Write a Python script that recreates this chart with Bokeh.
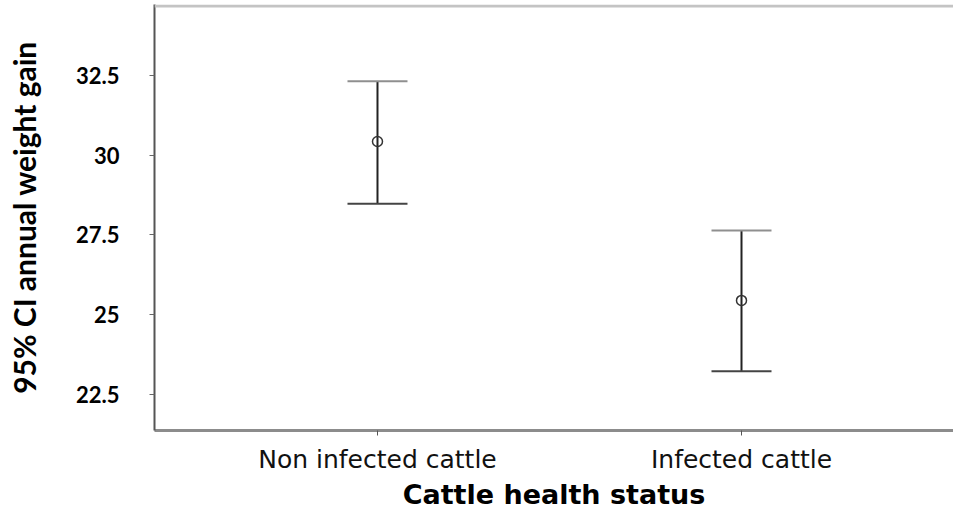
from bokeh.plotting import figure
from bokeh.models import ColumnDataSource, Whisker, TeeHead, FixedTicker, Span, Range1d
from bokeh.embed import file_html
from bokeh.resources import INLINE

# ---- data ----
categories = ["Non infected cattle", "Infected cattle"]
means = [30.43, 25.45]
upper = [32.32, 27.64]
lower = [28.48, 23.23]
y_ticks = [22.5, 25, 27.5, 30, 32.5]
y_tick_labels = ["22.5", "25", "27.5", "30", "32.5"]
x_title = "Cattle health status"
y_title = "95% CI annual weight gain"

xpos = list(range(len(categories)))
src = ColumnDataSource(dict(x=xpos, mean=means, upper=upper, lower=lower))

Y0, Y1 = 21.371, 34.726
p = figure(width=953, height=512, output_backend="svg", toolbar_location=None,
           x_range=Range1d(-0.6126, 1.5824), y_range=Range1d(Y0, Y1),
           min_border_left=154, min_border_right=0, min_border_top=4,
           min_border_bottom=82)
p.grid.visible = False
p.outline_line_color = None
p.background_fill_color = "white"
p.border_fill_color = "white"

# top frame line
p.add_layout(Span(location=Y1 - 0.05, dimension="width", line_color="#c4c4c4", line_width=3))

# error bars
w = Whisker(source=src, base="x", upper="upper", lower="lower", dimension="height",
            line_color="#222222", line_width=2,
            upper_head=TeeHead(size=60, line_color="#8f8f8f", line_width=2),
            lower_head=TeeHead(size=60, line_color="#444444", line_width=2))
p.add_layout(w)
p.scatter("x", "mean", source=src, marker="circle", size=10, fill_color=None,
          line_color="#333333", line_width=1.5)

# y axis
yax = p.yaxis[0]
yax.ticker = FixedTicker(ticks=y_ticks)
yax.major_label_overrides = {t: s for t, s in zip(y_ticks, y_tick_labels)}
yax.major_label_text_font = "Lato"
yax.major_label_text_font_style = "bold"
yax.major_label_text_font_size = "22px"
yax.major_label_text_color = "#000000"
yax.major_label_standoff = 30
yax.axis_label = y_title
yax.axis_label_text_font = "Lato"
yax.axis_label_text_font_style = "bold"
yax.axis_label_text_font_size = "30px"
yax.axis_label_text_color = "#000000"
yax.axis_label_standoff = 31
yax.axis_line_color = "#555555"
yax.axis_line_width = 2
yax.major_tick_line_color = "#666666"
yax.major_tick_out = 5
yax.major_tick_in = 0
yax.minor_tick_line_color = None

# x axis
xax = p.xaxis[0]
xax.ticker = FixedTicker(ticks=xpos)
xax.major_label_overrides = {i: c for i, c in zip(xpos, categories)}
xax.major_label_text_font = "DejaVu Sans"
xax.major_label_text_font_size = "25px"
xax.major_label_text_color = "#111111"
xax.major_label_standoff = 9
xax.axis_label = x_title
xax.axis_label_text_font = "DejaVu Sans"
xax.axis_label_text_font_style = "bold"
xax.axis_label_text_font_size = "27px"
xax.axis_label_text_color = "#000000"
xax.axis_label_standoff = 2
xax.axis_line_color = "#8c8c8c"
xax.axis_line_width = 3
xax.major_tick_line_color = "#555555"
xax.major_tick_out = 5
xax.major_tick_in = 0
xax.minor_tick_line_color = None

open("out.html", "w").write(file_html(p, INLINE))
